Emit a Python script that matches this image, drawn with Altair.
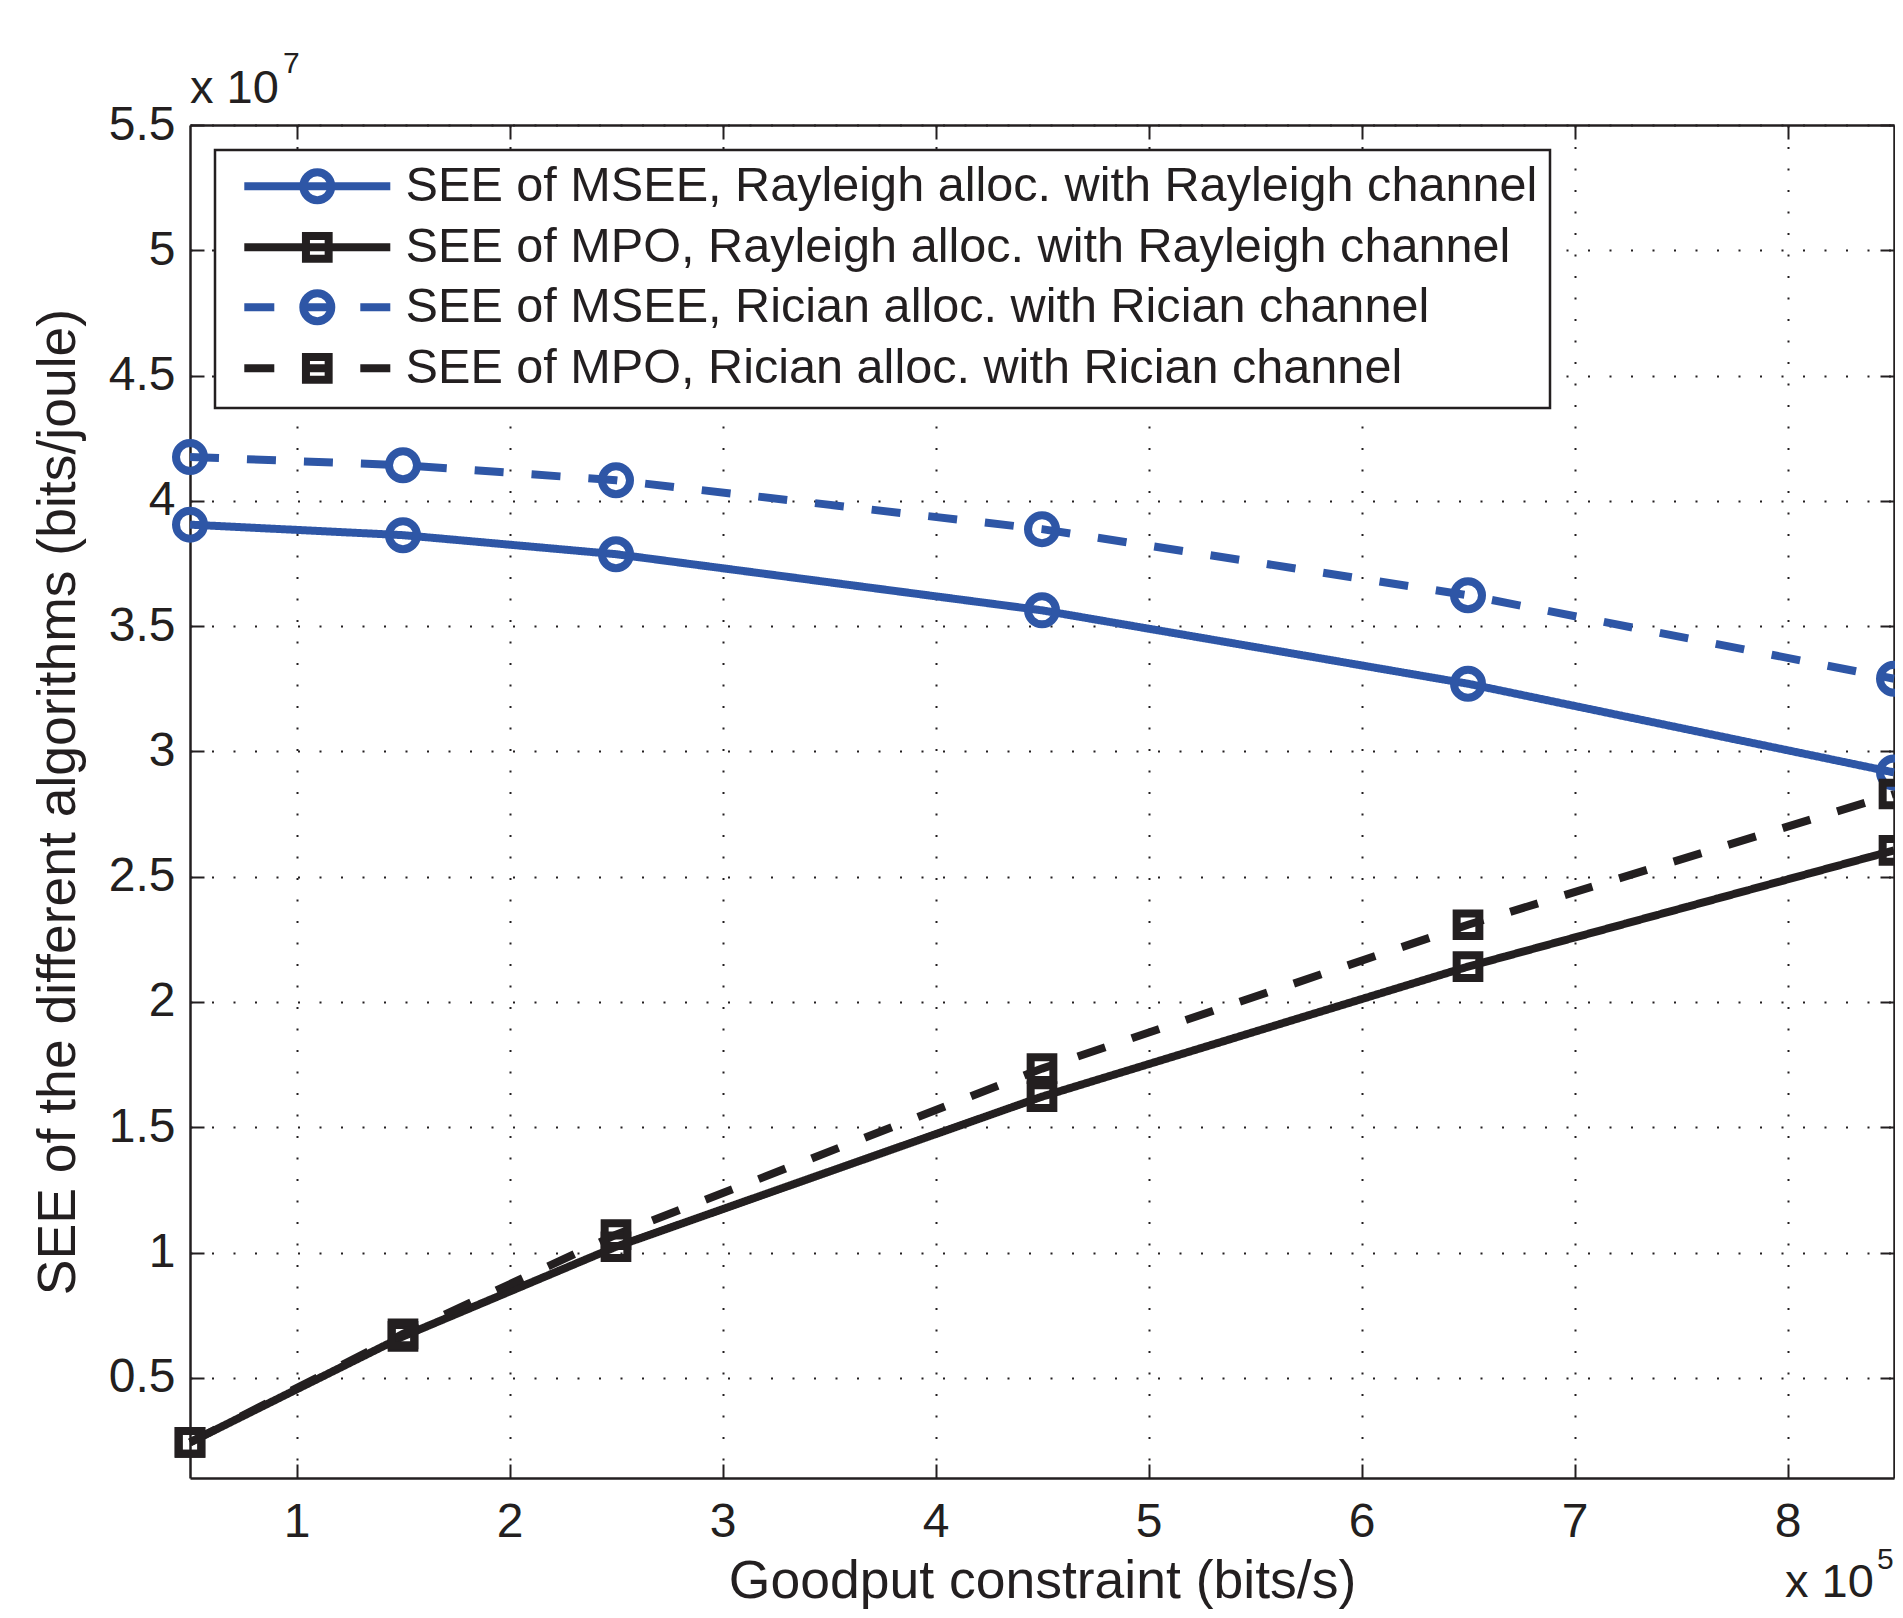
import altair as alt
import pandas as pd

# ---------------- data ----------------
goodput_e5 = [0.5, 1.5, 2.5, 4.5, 6.5, 8.5]          # Goodput constraint, x 10^5 bits/s
see_msee_rayleigh = [3.905, 3.863, 3.787, 3.563, 3.270, 2.916]   # x 10^7 bits/joule
see_mpo_rayleigh = [0.242, 0.665, 1.023, 1.622, 2.141, 2.605]
see_msee_rician = [4.175, 4.142, 4.082, 3.887, 3.623, 3.290]
see_mpo_rician = [0.242, 0.675, 1.071, 1.734, 2.308, 2.830]

series_names = [
    "SEE of MSEE, Rayleigh alloc. with Rayleigh channel",
    "SEE of MPO, Rayleigh alloc. with Rayleigh channel",
    "SEE of MSEE, Rician alloc. with Rician channel",
    "SEE of MPO, Rician alloc. with Rician channel",
]
series_values = [see_msee_rayleigh, see_mpo_rayleigh, see_msee_rician, see_mpo_rician]
series_line = ["solid", "solid", "dashed", "dashed"]
series_marker = ["circle", "square", "circle", "square"]

x_ticks = [1, 2, 3, 4, 5, 6, 7, 8]
y_ticks = [0.5, 1, 1.5, 2, 2.5, 3, 3.5, 4, 4.5, 5, 5.5]
x_title = "Goodput constraint (bits/s)"
y_title = "SEE of the different algorithms (bits/joule)"

# ---------------- styles ----------------
BLUE = "#2E56A6"
BLACK = "#231F20"
FONT = "Liberation Sans"
LW = 8
series_colors = [BLUE, BLACK, BLUE, BLACK]

circ = "M14,0A14,14,0,1,1,-14,0A14,14,0,1,1,14,0"
sq = "M-11.35,-11.35H11.35V11.35H-11.35Z"
solid = "M-73,0H73"
dashed = "M-73,0H-43M-15,0H15M43,0H73"
legend_paths = [solid + circ, solid + sq, dashed + circ, dashed + sq]
shape_expr = (
    f"datum.index === 0 ? '{legend_paths[0]}' : "
    f"datum.index === 1 ? '{legend_paths[1]}' : "
    f"datum.index === 2 ? '{legend_paths[2]}' : '{legend_paths[3]}'"
)

W, H = 1704, 1353

rows = []
for name, vals, ls, mk in zip(series_names, series_values, series_line, series_marker):
    for gx, gy in zip(goodput_e5, vals):
        rows.append({"series": name, "style": ls, "marker": mk, "goodput": gx, "see": gy})
df = pd.DataFrame(rows)

x_scale = alt.Scale(domain=[0.5, 8.5], nice=False, zero=False)
y_scale = alt.Scale(domain=[0.1, 5.5], nice=False, zero=False)

legend = alt.Legend(
    title=None,
    orient="none",
    legendX=25,
    legendY=25,
    padding=12,
    strokeColor=BLACK,
    fillColor="white",
    cornerRadius=0,
    labelFont=FONT,
    labelFontSize=48.6,
    labelColor=BLACK,
    labelLimit=0,
    symbolType=alt.ExprRef(expr=shape_expr),
    symbolSize=4,
    symbolStrokeWidth=LW,
    symbolFillColor="transparent",
    symbolOffset=66,
    labelOffset=64,
    rowPadding=2,
)

color = alt.Color(
    "series:N",
    scale=alt.Scale(domain=series_names, range=series_colors),
    legend=legend,
    sort=series_names,
)

common_axis = dict(
    tickSize=alt.ExprRef(expr="-14"),
    tickWidth=2,
    tickColor=BLACK,
    domainColor=BLACK,
    domainWidth=2.5,
    labelFont=FONT,
    labelFontSize=48,
    labelColor=BLACK,
    labelFlush=False,
    labelOverlap=False,
)

x_bottom = alt.Axis(
    orient="bottom",
    values=x_ticks,
    format="~g",
    labelPadding=34,
    grid=True,
    gridColor=BLACK,
    gridDash=[2, 19.5],
    gridWidth=2,
    title=x_title,
    titleFont=FONT,
    titleFontSize=53.5,
    titleFontWeight="normal",
    titleColor=BLACK,
    titleX=W / 2,
    titleY=119,
    titleAlign="center",
    titleBaseline="alphabetic",
    **common_axis,
)
y_left = alt.Axis(
    orient="left",
    values=y_ticks,
    format="~g",
    labelPadding=29,
    grid=True,
    gridColor=BLACK,
    gridDash=[2, 19.5],
    gridWidth=2,
    title=y_title,
    titleFont=FONT,
    titleFontSize=53.5,
    titleFontWeight="normal",
    titleColor=BLACK,
    titleX=-116,
    titleY=H / 2,
    titleAngle=270,
    titleAlign="center",
    titleBaseline="alphabetic",
    **common_axis,
)
x_top = alt.Axis(orient="top", values=x_ticks, labels=False, grid=False, title=None, **common_axis)
y_right = alt.Axis(orient="right", values=y_ticks, labels=False, grid=False, title=None, **common_axis)

base = alt.Chart(df)

lines = base.mark_line(strokeWidth=LW, clip=False).encode(
    x=alt.X("goodput:Q", scale=x_scale, axis=x_bottom),
    y=alt.Y("see:Q", scale=y_scale, axis=y_left),
    color=color,
    strokeDash=alt.StrokeDash(
        "style:N", scale=alt.Scale(domain=["solid", "dashed"], range=[[1, 0], [29, 28]]), legend=None
    ),
)

points = base.mark_point(filled=False, strokeWidth=LW, opacity=1, clip=False).encode(
    x=alt.X("goodput:Q", scale=x_scale, axis=x_top),
    y=alt.Y("see:Q", scale=y_scale, axis=y_right),
    color=color,
    shape=alt.Shape("marker:N", scale=alt.Scale(domain=["circle", "square"], range=["circle", "square"]), legend=None),
    size=alt.Size("marker:N", scale=alt.Scale(domain=["circle", "square"], range=[784, 515]), legend=None),
)

def label(txt, px, py, fs):
    return alt.Chart(pd.DataFrame({"t": [txt]})).mark_text(
        align="left", baseline="alphabetic", font=FONT, fontSize=fs, color=BLACK
    ).encode(x=alt.value(px), y=alt.value(py), text="t:N")

exp_y = label("x 10", 0, -22, 47)
exp_y_sup = label("7", 93, -52, 30)
exp_x = label("x 10", W - 109, 1472, 47)
exp_x_sup = label("5", W - 17, 1444, 30)

chart = (
    alt.layer(lines, points, exp_y, exp_y_sup, exp_x, exp_x_sup)
    .resolve_scale(x="shared", y="shared")
    .resolve_axis(x="independent", y="independent")
    .properties(
        width=W,
        height=H,
        autosize=alt.AutoSizeParams(type="none"),
        padding={"left": 182, "top": 117, "right": 1, "bottom": 132},
        background="white",
    )
    .configure_view(stroke=None)
    .configure_legend(strokeWidth=2.5)
)

chart.save("out.html", embed_options={"renderer": "svg", "actions": False})
